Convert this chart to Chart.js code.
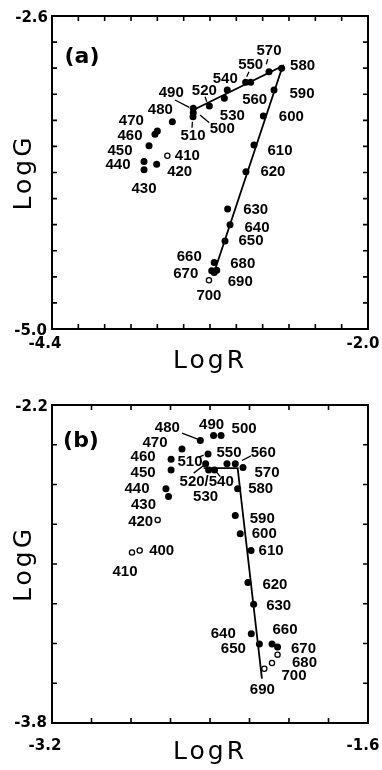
<!DOCTYPE html>
<html>
<head>
<meta charset="utf-8">
<script src="https://cdn.jsdelivr.net/npm/chart.js@4.4.1/dist/chart.umd.min.js"></script>
<style>
  html, body { margin: 0; padding: 0; background: #fff; }
  canvas { position: absolute; left: 0; }
</style>
</head>
<body>
<canvas id="panelA" width="382" height="385" style="top:0"></canvas>
<canvas id="panelB" width="382" height="385" style="top:385px"></canvas>
<script>
// ---- panel (a) ----
const wavelengthsA = [410, 420, 430, 440, 450, 460, 470, 480, 490, 500, 510, 520, 530, 540, 550, 560, 570, 580, 590, 600, 610, 620, 630, 640, 650, 660, 670, 680, 690, 700];
const logRA = [-3.524, -3.605, -3.701, -3.701, -3.663, -3.618, -3.600, -3.486, -3.327, -3.327, -3.329, -3.205, -3.091, -3.069, -2.929, -2.891, -2.752, -2.656, -2.714, -2.795, -2.866, -2.927, -3.066, -3.048, -3.086, -3.168, -3.187, -3.149, -3.168, -3.208];
const logGA = [-3.672, -3.736, -3.779, -3.715, -3.595, -3.507, -3.482, -3.410, -3.308, -3.341, -3.372, -3.290, -3.231, -3.167, -3.108, -3.108, -3.027, -3.001, -3.167, -3.367, -3.590, -3.795, -4.079, -4.200, -4.326, -4.490, -4.554, -4.549, -4.567, -4.626];
const openA = [410, 700];
const lineRA = [-3.327, -2.648, -3.175];
const lineGA = [-3.321, -2.983, -4.586];
const xTicksA = ['-4.4', '-2.0'];
const yTicksA = ['-2.6', '-5.0'];

// ---- panel (b) ----
const wavelengthsB = [400, 410, 420, 430, 440, 450, 460, 470, 480, 490, 500, 510, 520, 530, 540, 550, 560, 570, 580, 590, 600, 610, 620, 630, 640, 650, 660, 670, 680, 690, 700];
const logRB = [-2.756, -2.795, -2.665, -2.610, -2.623, -2.597, -2.597, -2.542, -2.449, -2.382, -2.344, -2.410, -2.422, -2.407, -2.377, -2.314, -2.272, -2.233, -2.260, -2.272, -2.247, -2.192, -2.208, -2.179, -2.191, -2.150, -2.086, -2.058, -2.058, -2.125, -2.086];
const logGB = [-2.932, -2.942, -2.778, -2.661, -2.622, -2.527, -2.473, -2.421, -2.379, -2.354, -2.354, -2.446, -2.496, -2.527, -2.527, -2.496, -2.496, -2.515, -2.622, -2.756, -2.848, -2.932, -3.093, -3.202, -3.351, -3.403, -3.403, -3.418, -3.456, -3.527, -3.498];
const openB = [400, 410, 420, 680, 690, 700];
const lineRB = [-2.432, -2.260, -2.137];
const lineGB = [-2.518, -2.518, -3.577];
const xTicksB = ['-3.2', '-1.6'];
const yTicksB = ['-2.2', '-3.8'];

// label placement (px, relative to the dot)
const placeA = {
  410: [20, 0], 420: [23, 8], 430: [0, 19], 440: [-26, 3], 450: [-29, 5], 460: [-25, 2], 470: [-26, -10],
  480: [-12, -12], 490: [-22, -15], 500: [29, 16], 510: [0, 19], 520: [-5, -15], 530: [8, 18], 540: [-2, -11],
  550: [5, -17], 560: [4, 18], 570: [0, -21], 580: [21, -2], 590: [28, 4], 600: [28, 1], 610: [26, 6],
  620: [27, 0], 630: [28, 1], 640: [27, 3], 650: [26, 0], 660: [-25, -6], 670: [-26, 3], 680: [26, -6],
  690: [26, 9], 700: [0, 16]
};
const leadersA = {
  570: [-1.3, -12.4, -2.7, -7.4], 550: [3.3, -10.6, 1, -5.6], 520: [-4.3, -9.3, -2.6, -4.3],
  490: [-18.3, -8.3, -4, -1], 500: [6.7, 2.3, 16, 10], 510: [-0.6, 5, -1, 11]
};
const placeB = {
  400: [22, 0], 410: [-7, 19], 420: [-17, 2], 430: [-25, 8], 440: [-29, 0], 450: [-28, 3], 460: [-28, -2],
  470: [-27, -6], 480: [-33, -13], 490: [-2, -11], 500: [23, -7], 510: [-18, 8], 520: [1, 18], 530: [-3, 27],
  550: [2, -11], 560: [28, -11], 570: [24, 5], 580: [23, 0], 590: [27, 3], 600: [24, 0], 610: [20, 0],
  620: [27, 2], 630: [25, 2], 640: [-28, 0], 650: [-26, 5], 660: [13, -14], 670: [26, 2], 680: [27, 8],
  690: [-2, 21], 700: [22, 13]
};
const leadersB = {
  480: [-18.3, -7.4, -2.7, -1.4], 510: [-9, 3.3, -4.4, 1.3], 520: [-12, 9.3, -2.3, 2],
  540: [1.7, 1.7, 5.7, 6.7], 560: [6.7, -3.3, 15.7, -8]
};
const textB = { 520: '520/540', 540: '' };

const decor = {
  id: 'decor',
  afterDraw(chart, args, o) {
    const ctx = chart.ctx;
    const a = chart.chartArea;
    const sx = chart.scales.x, sy = chart.scales.y;
    ctx.save();
    ctx.strokeStyle = '#000';
    ctx.fillStyle = '#000';

    // frame
    ctx.lineWidth = 2;
    ctx.strokeRect(a.left, a.top, a.right - a.left, a.bottom - a.top);

    // inward tick marks
    ctx.lineWidth = 1.6;
    ctx.beginPath();
    sx.ticks.forEach(t => {
      const px = sx.getPixelForValue(t.value);
      ctx.moveTo(px, a.bottom); ctx.lineTo(px, a.bottom - 5);
      ctx.moveTo(px, a.top); ctx.lineTo(px, a.top + 5);
    });
    sy.ticks.forEach(t => {
      const py = sy.getPixelForValue(t.value);
      ctx.moveTo(a.left, py); ctx.lineTo(a.left + 5, py);
      ctx.moveTo(a.right, py); ctx.lineTo(a.right - 5, py);
    });
    ctx.stroke();

    // leaders
    ctx.lineWidth = 1.3;
    ctx.beginPath();
    o.waves.forEach((w, i) => {
      const l = o.leaders[w];
      if (!l) return;
      const px = sx.getPixelForValue(o.xs[i]), py = sy.getPixelForValue(o.ys[i]);
      ctx.moveTo(px + l[0], py + l[1]); ctx.lineTo(px + l[2], py + l[3]);
    });
    ctx.stroke();

    // point labels
    ctx.font = 'bold 15px "Liberation Sans", Arial, sans-serif';
    ctx.textAlign = 'center';
    ctx.textBaseline = 'middle';
    o.waves.forEach((w, i) => {
      const p = o.place[w];
      const txt = (o.text && w in o.text) ? o.text[w] : String(w);
      if (!p || !txt) return;
      const px = sx.getPixelForValue(o.xs[i]), py = sy.getPixelForValue(o.ys[i]);
      ctx.fillText(txt, px + p[0], py + p[1]);
    });

    // tick labels
    ctx.font = 'bold 15px "DejaVu Sans", sans-serif';
    ctx.textAlign = 'right';
    ctx.fillText(o.yTicks[0], a.left - 4, a.top + 2);
    ctx.fillText(o.yTicks[1], a.left - 5, a.bottom + o.yBottomDy);
    ctx.textAlign = 'center';
    ctx.fillText(o.xTicks[0], a.left - 7, a.bottom + o.xLabelDy);
    ctx.fillText(o.xTicks[1], a.right - 5, a.bottom + o.xLabelDy);

    // panel tag
    ctx.font = 'bold 22px "DejaVu Sans", sans-serif';
    ctx.fillText(o.tag, a.left + o.tagPos[0], a.top + o.tagPos[1]);

    // axis titles
    ctx.font = '25px "DejaVu Sans", sans-serif';
    ctx.letterSpacing = '3px';
    ctx.fillText('LogR', (a.left + a.right) / 2, a.bottom + o.titleDy);
    ctx.translate(24, (a.top + a.bottom) / 2);
    ctx.rotate(-Math.PI / 2);
    ctx.fillText('LogG', 0, 0);
    ctx.restore();
  }
};

function makePanel(id, waves, xs, ys, open, lineR, lineG, xr, yr, pad, deco) {
  const filled = [], hollow = [];
  waves.forEach((w, i) => (open.includes(w) ? hollow : filled).push({ x: xs[i], y: ys[i] }));
  const line = lineR.map((r, i) => ({ x: r, y: lineG[i] }));
  return new Chart(document.getElementById(id), {
    type: 'scatter',
    data: {
      datasets: [
        { data: line, showLine: true, borderColor: '#000', borderWidth: 1.8, pointRadius: 0 },
        { data: filled, pointRadius: 3.5, backgroundColor: '#000', borderColor: '#000', borderWidth: 0 },
        { data: hollow, pointRadius: 2.6, backgroundColor: '#fff', borderColor: '#000', borderWidth: 1.3 }
      ]
    },
    options: {
      responsive: false,
      animation: false,
      layout: { padding: pad },
      plugins: { legend: { display: false }, tooltip: { enabled: false }, decor: deco },
      scales: {
        x: { display: false, min: xr[0], max: xr[1], ticks: { stepSize: 0.2 } },
        y: { display: false, min: yr[0], max: yr[1], ticks: { stepSize: 0.2 } }
      }
    },
    plugins: [decor]
  });
}

makePanel('panelA', wavelengthsA, logRA, logGA, openA, lineRA, lineGA, [-4.4, -2.0], [-5.0, -2.6],
  { left: 52, top: 16, right: 14, bottom: 56 },
  { waves: wavelengthsA, xs: logRA, ys: logGA, place: placeA, leaders: leadersA, xTicks: xTicksA, yTicks: yTicksA,
    tag: '(a)', tagPos: [30, 41], xLabelDy: 15, yBottomDy: 2, titleDy: 32 });

makePanel('panelB', wavelengthsB, logRB, logGB, openB, lineRB, lineGB, [-3.2, -1.6], [-3.8, -2.2],
  { left: 52, top: 20, right: 14, bottom: 47 },
  { waves: wavelengthsB, xs: logRB, ys: logGB, place: placeB, leaders: leadersB, text: textB, xTicks: xTicksB, yTicks: yTicksB,
    tag: '(b)', tagPos: [29, 36], xLabelDy: 23, yBottomDy: 0, titleDy: 29 });
</script>
</body>
</html>
